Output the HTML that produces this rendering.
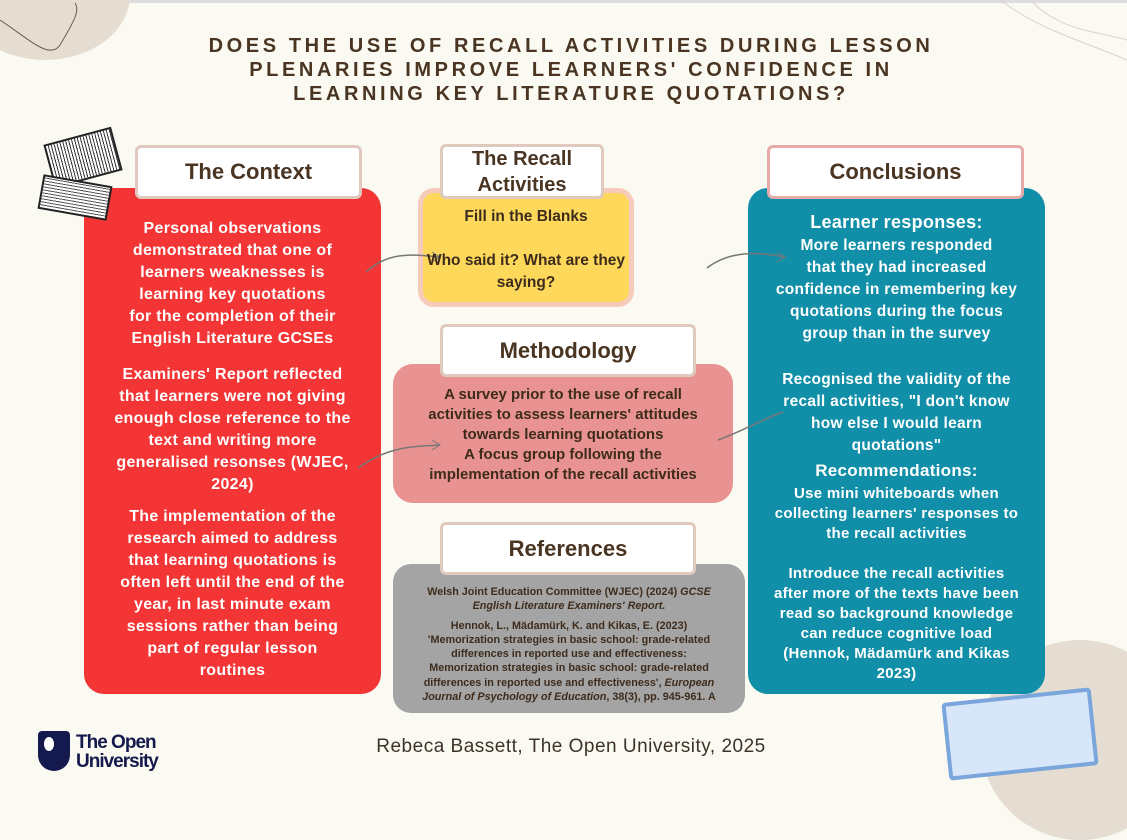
<!DOCTYPE html>
<html><head><meta charset="utf-8"><style>
*{margin:0;padding:0;box-sizing:border-box}
body{width:1127px;height:794px;background:#fbfaf2;position:relative;overflow:hidden;font-family:"Liberation Sans",sans-serif;font-weight:bold}
.a{position:absolute}
.t{position:absolute;text-align:center;white-space:nowrap}
.hdr{position:absolute;background:#fff;border:3px solid #e0c9bf;border-radius:6px;color:#4a3422;font-size:22px;text-align:center;display:flex;align-items:center;justify-content:center;line-height:28px}
.w{color:#fff;font-size:16px;line-height:22px;letter-spacing:.3px}
.d{color:#3d2c1c}
</style></head><body>
<div class="a" style="left:0;top:0;width:1127px;height:3px;background:#ddd"></div>
<div class="a" style="left:-40px;top:-70px;width:170px;height:130px;border-radius:50%;background:#e5ddd1"></div>
<div class="a" style="left:980px;top:640px;width:200px;height:200px;border-radius:50%;background:#e5ddd1"></div>
<div class="t" style="left:0;width:1142px;top:34px;font-size:20px;line-height:24px;letter-spacing:3.6px;color:#4a3422">DOES THE USE OF RECALL ACTIVITIES DURING LESSON<br>PLENARIES IMPROVE LEARNERS' CONFIDENCE IN<br>LEARNING KEY LITERATURE QUOTATIONS?</div>

<div class="a" style="left:84px;top:188px;width:297px;height:506px;background:#f33535;border-radius:20px"></div>
<div class="a" style="left:418px;top:188px;width:216px;height:119px;background:#fdd85a;border:5px solid #f7cbbb;border-radius:16px"></div>
<div class="a" style="left:393px;top:364px;width:340px;height:139px;background:#e99292;border-radius:20px"></div>
<div class="a" style="left:393px;top:564px;width:352px;height:149px;background:#a4a4a4;border-radius:18px"></div>
<div class="a" style="left:748px;top:188px;width:297px;height:506px;background:#118fa8;border-radius:20px"></div>

<svg class="a" style="left:0;top:0" width="1127" height="794">
<path d="M0 20 C30 40 50 60 60 45 C75 20 80 10 75 3" stroke="#6b5a4e" stroke-width="1" fill="none"/>
<path d="M1000 0 C1040 30 1080 40 1127 60 M1030 0 C1060 30 1090 30 1127 40" stroke="#d8d3cb" fill="none"/>
<path d="M366 272 C390 250 415 255 440 257" stroke="#777" stroke-width="1.5" fill="none"/><path d="M432 252 L440 257 L432 262" stroke="#777" fill="none"/>
<path d="M358 468 C390 445 415 447 440 445" stroke="#777" stroke-width="1.5" fill="none"/><path d="M432 440 L440 445 L432 450" stroke="#777" fill="none"/>
<path d="M707 268 C730 250 760 252 785 257" stroke="#777" stroke-width="1.5" fill="none"/><path d="M777 252 L785 257 L777 262" stroke="#777" fill="none"/>
<path d="M718 440 C745 430 765 418 783 412" stroke="#777" stroke-width="1.5" fill="none"/>
</svg>

<div class="hdr" style="left:135px;top:145px;width:227px;height:54px">The Context</div>
<div class="hdr" style="left:440px;top:144px;width:164px;height:55px;font-size:20px;line-height:26px">The Recall<br>Activities</div>
<div class="hdr" style="left:440px;top:324px;width:256px;height:53px">Methodology</div>
<div class="hdr" style="left:440px;top:522px;width:256px;height:53px">References</div>
<div class="hdr" style="left:767px;top:145px;width:257px;height:54px;border-color:#e8aaa8">Conclusions</div>

<div class="t w" style="left:84px;width:297px;top:218px">Personal observations<br>demonstrated that one of<br>learners weaknesses is<br>learning key quotations<br>for the completion of their<br>English Literature GCSEs</div>
<div class="t w" style="left:84px;width:297px;top:364px">Examiners' Report reflected<br>that learners were not giving<br>enough close reference to the<br>text and writing more<br>generalised resonses (WJEC,<br>2024)</div>
<div class="t w" style="left:84px;width:297px;top:506px">The implementation of the<br>research aimed to address<br>that learning quotations is<br>often left until the end of the<br>year, in last minute exam<br>sessions rather than being<br>part of regular lesson<br>routines</div>

<div class="t d" style="left:418px;width:216px;top:206px;font-size:15.5px;line-height:22px">Fill in the Blanks<br><br>Who said it? What are they<br>saying?</div>
<div class="t d" style="left:393px;width:340px;top:385px;font-size:15px;line-height:20px">A survey prior to the use of recall<br>activities to assess learners' attitudes<br>towards learning quotations<br>A focus group following the<br>implementation of the recall activities</div>
<div class="t d" style="left:393px;width:352px;top:585px;font-size:10.8px;line-height:14.3px">Welsh Joint Education Committee (WJEC) (2024) <i>GCSE</i><br><i>English Literature Examiners' Report.</i><br><span style="display:block;height:5px"></span>Hennok, L., Mädamürk, K. and Kikas, E. (2023)<br>'Memorization strategies in basic school: grade-related<br>differences in reported use and effectiveness:<br>Memorization strategies in basic school: grade-related<br>differences in reported use and effectiveness', <i>European</i><br><i>Journal of Psychology of Education</i>, 38(3), pp. 945-961. A</div>

<div class="t w" style="left:748px;width:297px;top:211px;font-size:18px">Learner responses:</div>
<div class="t w" style="left:748px;width:297px;top:235px;font-size:15.5px">More learners responded<br>that they had increased<br>confidence in remembering key<br>quotations during the focus<br>group than in the survey</div>
<div class="t w" style="left:748px;width:297px;top:369px;font-size:15.5px">Recognised the validity of the<br>recall activities, "I don't know<br>how else I would learn<br>quotations"</div>
<div class="t w" style="left:748px;width:297px;top:460px;font-size:17px">Recommendations:</div>
<div class="t w" style="left:748px;width:297px;top:484px;font-size:15px;line-height:20px">Use mini whiteboards when<br>collecting learners' responses to<br>the recall activities<br><br>Introduce the recall activities<br>after more of the texts have been<br>read so background knowledge<br>can reduce cognitive load<br>(Hennok, Mädamürk and Kikas<br>2023)</div>

<div class="t" style="left:0;width:1142px;top:736px;font-size:19px;font-weight:normal;color:#3d3228;letter-spacing:.5px">Rebeca Bassett, The Open University, 2025</div>
<div class="a" style="left:38px;top:731px;width:32px;height:40px;background:#141a4d;border-radius:4px 4px 16px 16px"></div>
<div class="a" style="left:44px;top:737px;width:10px;height:14px;background:#fff;border-radius:50%"></div>
<div class="t" style="left:76px;top:733px;font-size:19px;line-height:19px;color:#141a4d;text-align:left;letter-spacing:-1px">The Open<br>University</div>

<div class="a" style="left:945px;top:695px;width:150px;height:78px;background:#d7e6f8;border:4px solid #7aa6dc;border-radius:4px;transform:rotate(-6deg)"></div>
<div class="a" style="left:48px;top:135px;width:70px;height:45px;border:2px solid #222;background:repeating-linear-gradient(90deg,#fff 0 2px,#333 2px 3px);transform:rotate(-15deg)"></div>
<div class="a" style="left:40px;top:180px;width:70px;height:35px;border:2px solid #222;background:repeating-linear-gradient(0deg,#fff 0 2px,#555 2px 3px);transform:rotate(10deg)"></div>
</body></html>
